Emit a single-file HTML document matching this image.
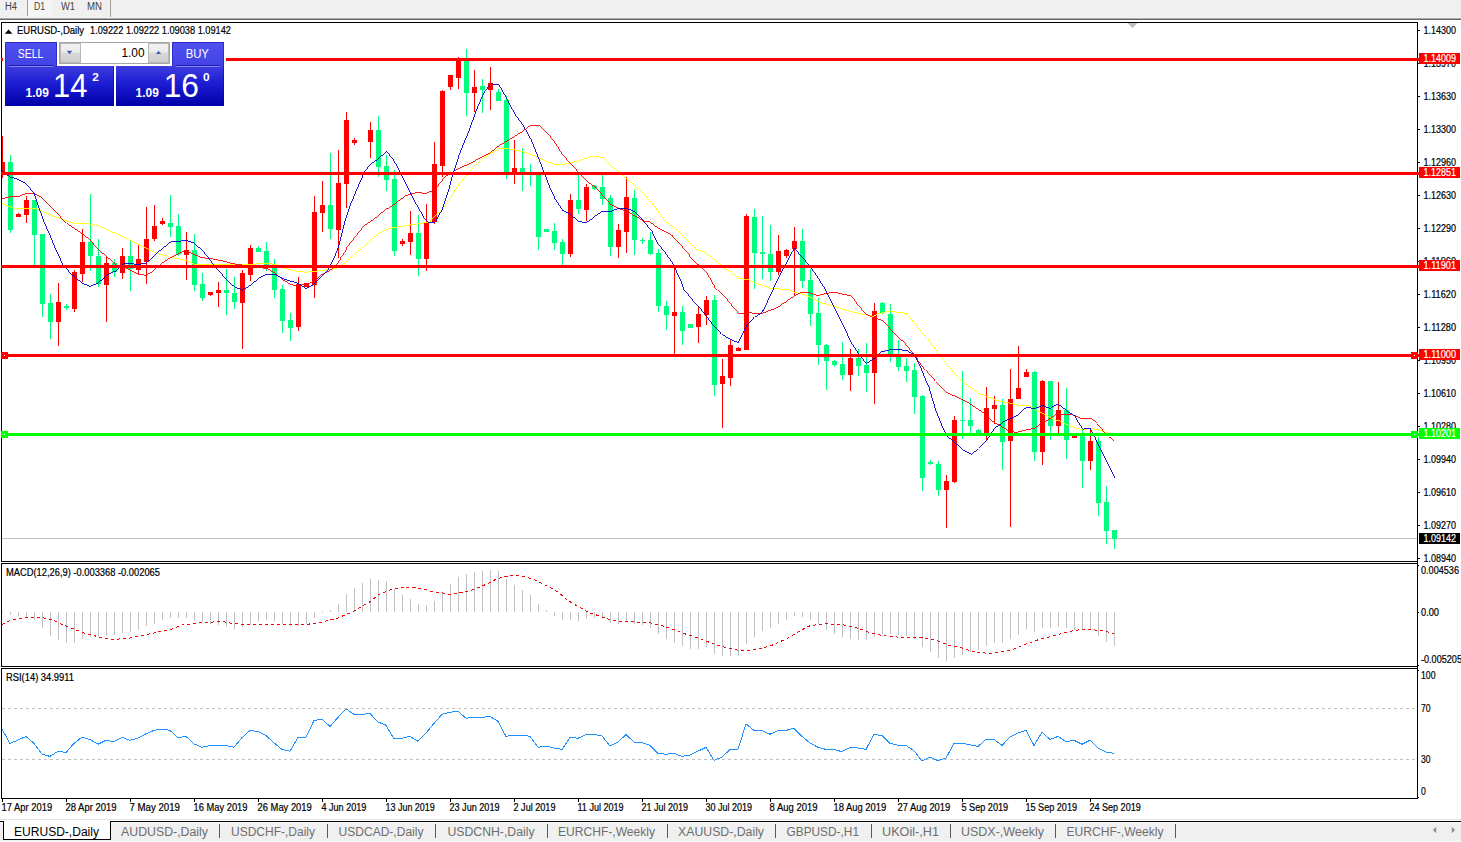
<!DOCTYPE html>
<html><head><meta charset="utf-8"><title>EURUSD-,Daily</title>
<style>html,body{margin:0;padding:0;background:#fff;overflow:hidden}body{width:1461px;height:842px;font-family:"Liberation Sans",sans-serif}svg{display:block}</style>
</head><body>
<svg width="1461" height="842" viewBox="0 0 1461 842" font-family="Liberation Sans, sans-serif">
<defs><linearGradient id="gb" x1="0" y1="0" x2="0" y2="1"><stop offset="0" stop-color="#3d3ddf"/><stop offset="0.45" stop-color="#1c1cd2"/><stop offset="1" stop-color="#0000a8"/></linearGradient><linearGradient id="gs" x1="0" y1="0" x2="0" y2="1"><stop offset="0" stop-color="#5050f0"/><stop offset="1" stop-color="#4242e4"/></linearGradient><linearGradient id="gbtn" x1="0" y1="0" x2="0" y2="1"><stop offset="0" stop-color="#f2f2f2"/><stop offset="0.45" stop-color="#eaeaea"/><stop offset="0.5" stop-color="#d8d8d8"/><stop offset="1" stop-color="#cfcfcf"/></linearGradient><pattern id="chk" width="2" height="2" patternUnits="userSpaceOnUse"><rect width="2" height="2" fill="#f0f0f0"/><rect width="1" height="1" fill="#fafafa"/><rect x="1" y="1" width="1" height="1" fill="#fafafa"/></pattern></defs>
<rect width="1461" height="842" fill="#fff"/>
<rect x="0" y="0" width="1461" height="18" fill="#f0f0f0"/>
<rect x="0" y="17" width="1461" height="1" fill="#f7f7f7"/>
<rect x="0" y="18" width="1461" height="1" fill="#a8a8a8"/>
<rect x="0" y="19" width="1461" height="1" fill="#6a6a6a"/>
<rect x="28" y="0" width="24" height="16" fill="url(#chk)"/>
<rect x="27" y="0" width="1" height="16" fill="#a0a0a0"/>
<rect x="110" y="0" width="1" height="17" fill="#a0a0a0"/>
<text x="5" y="10" font-size="10" fill="#444" textLength="12" lengthAdjust="spacingAndGlyphs" >H4</text>
<text x="34" y="10" font-size="10" fill="#444" textLength="11" lengthAdjust="spacingAndGlyphs" >D1</text>
<text x="61" y="10" font-size="10" fill="#444" textLength="14" lengthAdjust="spacingAndGlyphs" >W1</text>
<text x="87" y="10" font-size="10" fill="#444" textLength="15" lengthAdjust="spacingAndGlyphs" >MN</text>
<g shape-rendering="crispEdges">
<rect x="1" y="22" width="1" height="540" fill="#000"/>
<rect x="1" y="22" width="1417" height="1" fill="#000"/>
<rect x="1" y="561" width="1417" height="1" fill="#000"/>
<rect x="1417" y="22" width="1" height="777" fill="#000"/>
<rect x="1" y="563" width="1417" height="1" fill="#000"/>
<rect x="1" y="563" width="1" height="104" fill="#000"/>
<rect x="1" y="666" width="1417" height="1" fill="#000"/>
<rect x="1" y="668" width="1417" height="1" fill="#000"/>
<rect x="1" y="668" width="1" height="131" fill="#000"/>
<rect x="1" y="798" width="1417" height="1" fill="#000"/>
<rect x="2" y="538" width="1415" height="1" fill="#c0c0c0"/>
<clipPath id="cp"><rect x="2" y="23" width="1415" height="538"/></clipPath><g clip-path="url(#cp)">
<rect x="2" y="136" width="1" height="42" fill="#ff0000"/>
<rect x="0" y="162" width="5" height="10" fill="#ff0000"/>
<rect x="10" y="155" width="1" height="78" fill="#00ff7f"/>
<rect x="8" y="162" width="5" height="68" fill="#00ff7f"/>
<rect x="18" y="213" width="1" height="4" fill="#ff0000"/>
<rect x="16" y="214" width="5" height="3" fill="#ff0000"/>
<rect x="26" y="196" width="1" height="27" fill="#ff0000"/>
<rect x="24" y="200" width="5" height="15" fill="#ff0000"/>
<rect x="34" y="200" width="1" height="65" fill="#00ff7f"/>
<rect x="32" y="200" width="5" height="35" fill="#00ff7f"/>
<rect x="42" y="234" width="1" height="83" fill="#00ff7f"/>
<rect x="40" y="234" width="5" height="70" fill="#00ff7f"/>
<rect x="50" y="294" width="1" height="45" fill="#00ff7f"/>
<rect x="48" y="303" width="5" height="19" fill="#00ff7f"/>
<rect x="58" y="283" width="1" height="63" fill="#ff0000"/>
<rect x="56" y="302" width="5" height="20" fill="#ff0000"/>
<rect x="66" y="304" width="1" height="6" fill="#00ff7f"/>
<rect x="64" y="306" width="5" height="2" fill="#00ff7f"/>
<rect x="74" y="270" width="1" height="42" fill="#ff0000"/>
<rect x="72" y="272" width="5" height="37" fill="#ff0000"/>
<rect x="82" y="229" width="1" height="53" fill="#ff0000"/>
<rect x="80" y="242" width="5" height="32" fill="#ff0000"/>
<rect x="90" y="194" width="1" height="77" fill="#00ff7f"/>
<rect x="88" y="242" width="5" height="14" fill="#00ff7f"/>
<rect x="98" y="239" width="1" height="48" fill="#00ff7f"/>
<rect x="96" y="256" width="5" height="28" fill="#00ff7f"/>
<rect x="106" y="257" width="1" height="65" fill="#ff0000"/>
<rect x="104" y="263" width="5" height="22" fill="#ff0000"/>
<rect x="114" y="259" width="1" height="18" fill="#00ff7f"/>
<rect x="112" y="263" width="5" height="9" fill="#00ff7f"/>
<rect x="122" y="248" width="1" height="31" fill="#ff0000"/>
<rect x="120" y="256" width="5" height="17" fill="#ff0000"/>
<rect x="130" y="240" width="1" height="51" fill="#00ff7f"/>
<rect x="128" y="256" width="5" height="13" fill="#00ff7f"/>
<rect x="138" y="245" width="1" height="29" fill="#ff0000"/>
<rect x="136" y="259" width="5" height="11" fill="#ff0000"/>
<rect x="146" y="207" width="1" height="77" fill="#ff0000"/>
<rect x="144" y="239" width="5" height="23" fill="#ff0000"/>
<rect x="154" y="205" width="1" height="36" fill="#ff0000"/>
<rect x="152" y="226" width="5" height="13" fill="#ff0000"/>
<rect x="162" y="218" width="1" height="7" fill="#ff0000"/>
<rect x="160" y="221" width="5" height="3" fill="#ff0000"/>
<rect x="170" y="195" width="1" height="42" fill="#00ff7f"/>
<rect x="168" y="223" width="5" height="4" fill="#00ff7f"/>
<rect x="178" y="214" width="1" height="42" fill="#00ff7f"/>
<rect x="176" y="226" width="5" height="28" fill="#00ff7f"/>
<rect x="186" y="232" width="1" height="48" fill="#ff0000"/>
<rect x="184" y="250" width="5" height="5" fill="#ff0000"/>
<rect x="194" y="234" width="1" height="57" fill="#00ff7f"/>
<rect x="192" y="250" width="5" height="35" fill="#00ff7f"/>
<rect x="202" y="273" width="1" height="28" fill="#00ff7f"/>
<rect x="200" y="284" width="5" height="14" fill="#00ff7f"/>
<rect x="210" y="292" width="1" height="4" fill="#ff0000"/>
<rect x="208" y="292" width="5" height="3" fill="#ff0000"/>
<rect x="218" y="282" width="1" height="25" fill="#ff0000"/>
<rect x="216" y="290" width="5" height="3" fill="#ff0000"/>
<rect x="226" y="269" width="1" height="46" fill="#00ff7f"/>
<rect x="224" y="290" width="5" height="3" fill="#00ff7f"/>
<rect x="234" y="277" width="1" height="32" fill="#00ff7f"/>
<rect x="232" y="293" width="5" height="9" fill="#00ff7f"/>
<rect x="242" y="270" width="1" height="79" fill="#ff0000"/>
<rect x="240" y="273" width="5" height="30" fill="#ff0000"/>
<rect x="250" y="245" width="1" height="36" fill="#ff0000"/>
<rect x="248" y="248" width="5" height="27" fill="#ff0000"/>
<rect x="258" y="246" width="1" height="6" fill="#00ff7f"/>
<rect x="256" y="248" width="5" height="4" fill="#00ff7f"/>
<rect x="266" y="242" width="1" height="29" fill="#00ff7f"/>
<rect x="264" y="251" width="5" height="14" fill="#00ff7f"/>
<rect x="274" y="259" width="1" height="39" fill="#00ff7f"/>
<rect x="272" y="265" width="5" height="25" fill="#00ff7f"/>
<rect x="282" y="285" width="1" height="48" fill="#00ff7f"/>
<rect x="280" y="289" width="5" height="32" fill="#00ff7f"/>
<rect x="290" y="313" width="1" height="28" fill="#00ff7f"/>
<rect x="288" y="320" width="5" height="8" fill="#00ff7f"/>
<rect x="298" y="277" width="1" height="54" fill="#ff0000"/>
<rect x="296" y="284" width="5" height="43" fill="#ff0000"/>
<rect x="306" y="283" width="1" height="4" fill="#ff0000"/>
<rect x="304" y="283" width="5" height="4" fill="#ff0000"/>
<rect x="314" y="196" width="1" height="102" fill="#ff0000"/>
<rect x="312" y="212" width="5" height="73" fill="#ff0000"/>
<rect x="322" y="181" width="1" height="51" fill="#ff0000"/>
<rect x="320" y="205" width="5" height="8" fill="#ff0000"/>
<rect x="330" y="153" width="1" height="86" fill="#00ff7f"/>
<rect x="328" y="205" width="5" height="24" fill="#00ff7f"/>
<rect x="338" y="150" width="1" height="108" fill="#ff0000"/>
<rect x="336" y="183" width="5" height="47" fill="#ff0000"/>
<rect x="346" y="112" width="1" height="96" fill="#ff0000"/>
<rect x="344" y="120" width="5" height="64" fill="#ff0000"/>
<rect x="354" y="138" width="1" height="7" fill="#ff0000"/>
<rect x="352" y="140" width="5" height="3" fill="#ff0000"/>
<rect x="370" y="122" width="1" height="36" fill="#ff0000"/>
<rect x="368" y="130" width="5" height="12" fill="#ff0000"/>
<rect x="378" y="116" width="1" height="61" fill="#00ff7f"/>
<rect x="376" y="130" width="5" height="37" fill="#00ff7f"/>
<rect x="386" y="155" width="1" height="36" fill="#00ff7f"/>
<rect x="384" y="166" width="5" height="14" fill="#00ff7f"/>
<rect x="394" y="170" width="1" height="86" fill="#00ff7f"/>
<rect x="392" y="179" width="5" height="72" fill="#00ff7f"/>
<rect x="402" y="239" width="1" height="7" fill="#ff0000"/>
<rect x="400" y="241" width="5" height="3" fill="#ff0000"/>
<rect x="410" y="211" width="1" height="44" fill="#ff0000"/>
<rect x="408" y="233" width="5" height="9" fill="#ff0000"/>
<rect x="418" y="215" width="1" height="61" fill="#00ff7f"/>
<rect x="416" y="233" width="5" height="26" fill="#00ff7f"/>
<rect x="426" y="204" width="1" height="67" fill="#ff0000"/>
<rect x="424" y="222" width="5" height="37" fill="#ff0000"/>
<rect x="434" y="142" width="1" height="82" fill="#ff0000"/>
<rect x="432" y="164" width="5" height="58" fill="#ff0000"/>
<rect x="442" y="90" width="1" height="87" fill="#ff0000"/>
<rect x="440" y="91" width="5" height="75" fill="#ff0000"/>
<rect x="450" y="75" width="1" height="15" fill="#ff0000"/>
<rect x="448" y="75" width="5" height="12" fill="#ff0000"/>
<rect x="458" y="57" width="1" height="32" fill="#ff0000"/>
<rect x="456" y="58" width="5" height="20" fill="#ff0000"/>
<rect x="466" y="49" width="1" height="67" fill="#00ff7f"/>
<rect x="464" y="60" width="5" height="33" fill="#00ff7f"/>
<rect x="474" y="70" width="1" height="42" fill="#ff0000"/>
<rect x="472" y="87" width="5" height="6" fill="#ff0000"/>
<rect x="482" y="79" width="1" height="34" fill="#00ff7f"/>
<rect x="480" y="86" width="5" height="4" fill="#00ff7f"/>
<rect x="490" y="67" width="1" height="43" fill="#ff0000"/>
<rect x="488" y="83" width="5" height="7" fill="#ff0000"/>
<rect x="498" y="89" width="1" height="12" fill="#00ff7f"/>
<rect x="496" y="92" width="5" height="9" fill="#00ff7f"/>
<rect x="506" y="96" width="1" height="83" fill="#00ff7f"/>
<rect x="504" y="100" width="5" height="74" fill="#00ff7f"/>
<rect x="514" y="140" width="1" height="44" fill="#ff0000"/>
<rect x="512" y="168" width="5" height="6" fill="#ff0000"/>
<rect x="522" y="148" width="1" height="43" fill="#00ff7f"/>
<rect x="520" y="168" width="5" height="6" fill="#00ff7f"/>
<rect x="530" y="164" width="1" height="22" fill="#00ff7f"/>
<rect x="528" y="172" width="5" height="2" fill="#00ff7f"/>
<rect x="538" y="174" width="1" height="76" fill="#00ff7f"/>
<rect x="536" y="174" width="5" height="63" fill="#00ff7f"/>
<rect x="546" y="229" width="1" height="3" fill="#00ff7f"/>
<rect x="544" y="229" width="5" height="3" fill="#00ff7f"/>
<rect x="554" y="223" width="1" height="27" fill="#00ff7f"/>
<rect x="552" y="231" width="5" height="12" fill="#00ff7f"/>
<rect x="562" y="239" width="1" height="26" fill="#00ff7f"/>
<rect x="560" y="242" width="5" height="12" fill="#00ff7f"/>
<rect x="570" y="194" width="1" height="63" fill="#ff0000"/>
<rect x="568" y="200" width="5" height="54" fill="#ff0000"/>
<rect x="578" y="173" width="1" height="41" fill="#00ff7f"/>
<rect x="576" y="200" width="5" height="9" fill="#00ff7f"/>
<rect x="586" y="184" width="1" height="37" fill="#ff0000"/>
<rect x="584" y="187" width="5" height="23" fill="#ff0000"/>
<rect x="594" y="185" width="1" height="5" fill="#00ff7f"/>
<rect x="592" y="186" width="5" height="3" fill="#00ff7f"/>
<rect x="602" y="175" width="1" height="30" fill="#00ff7f"/>
<rect x="600" y="187" width="5" height="12" fill="#00ff7f"/>
<rect x="610" y="195" width="1" height="61" fill="#00ff7f"/>
<rect x="608" y="198" width="5" height="49" fill="#00ff7f"/>
<rect x="618" y="224" width="1" height="34" fill="#ff0000"/>
<rect x="616" y="230" width="5" height="17" fill="#ff0000"/>
<rect x="626" y="177" width="1" height="76" fill="#ff0000"/>
<rect x="624" y="197" width="5" height="35" fill="#ff0000"/>
<rect x="634" y="190" width="1" height="65" fill="#00ff7f"/>
<rect x="632" y="198" width="5" height="42" fill="#00ff7f"/>
<rect x="642" y="238" width="1" height="6" fill="#00ff7f"/>
<rect x="640" y="240" width="5" height="1" fill="#00ff7f"/>
<rect x="650" y="232" width="1" height="23" fill="#00ff7f"/>
<rect x="648" y="240" width="5" height="14" fill="#00ff7f"/>
<rect x="658" y="249" width="1" height="63" fill="#00ff7f"/>
<rect x="656" y="253" width="5" height="53" fill="#00ff7f"/>
<rect x="666" y="301" width="1" height="29" fill="#00ff7f"/>
<rect x="664" y="306" width="5" height="9" fill="#00ff7f"/>
<rect x="674" y="268" width="1" height="87" fill="#ff0000"/>
<rect x="672" y="312" width="5" height="4" fill="#ff0000"/>
<rect x="682" y="306" width="1" height="39" fill="#00ff7f"/>
<rect x="680" y="312" width="5" height="19" fill="#00ff7f"/>
<rect x="690" y="324" width="1" height="4" fill="#00ff7f"/>
<rect x="688" y="324" width="5" height="4" fill="#00ff7f"/>
<rect x="698" y="307" width="1" height="36" fill="#ff0000"/>
<rect x="696" y="314" width="5" height="13" fill="#ff0000"/>
<rect x="706" y="296" width="1" height="29" fill="#ff0000"/>
<rect x="704" y="300" width="5" height="15" fill="#ff0000"/>
<rect x="714" y="295" width="1" height="101" fill="#00ff7f"/>
<rect x="712" y="300" width="5" height="85" fill="#00ff7f"/>
<rect x="722" y="359" width="1" height="69" fill="#ff0000"/>
<rect x="720" y="376" width="5" height="8" fill="#ff0000"/>
<rect x="730" y="340" width="1" height="46" fill="#ff0000"/>
<rect x="728" y="345" width="5" height="33" fill="#ff0000"/>
<rect x="738" y="347" width="1" height="4" fill="#ff0000"/>
<rect x="736" y="348" width="5" height="3" fill="#ff0000"/>
<rect x="746" y="214" width="1" height="136" fill="#ff0000"/>
<rect x="744" y="216" width="5" height="134" fill="#ff0000"/>
<rect x="754" y="209" width="1" height="80" fill="#00ff7f"/>
<rect x="752" y="217" width="5" height="36" fill="#00ff7f"/>
<rect x="762" y="216" width="1" height="63" fill="#00ff7f"/>
<rect x="760" y="252" width="5" height="2" fill="#00ff7f"/>
<rect x="770" y="225" width="1" height="56" fill="#00ff7f"/>
<rect x="768" y="254" width="5" height="18" fill="#00ff7f"/>
<rect x="778" y="235" width="1" height="40" fill="#ff0000"/>
<rect x="776" y="251" width="5" height="21" fill="#ff0000"/>
<rect x="786" y="249" width="1" height="9" fill="#ff0000"/>
<rect x="784" y="250" width="5" height="6" fill="#ff0000"/>
<rect x="794" y="227" width="1" height="68" fill="#ff0000"/>
<rect x="792" y="241" width="5" height="8" fill="#ff0000"/>
<rect x="802" y="229" width="1" height="59" fill="#00ff7f"/>
<rect x="800" y="241" width="5" height="40" fill="#00ff7f"/>
<rect x="810" y="269" width="1" height="57" fill="#00ff7f"/>
<rect x="808" y="280" width="5" height="34" fill="#00ff7f"/>
<rect x="818" y="298" width="1" height="67" fill="#00ff7f"/>
<rect x="816" y="313" width="5" height="32" fill="#00ff7f"/>
<rect x="826" y="344" width="1" height="46" fill="#00ff7f"/>
<rect x="824" y="345" width="5" height="16" fill="#00ff7f"/>
<rect x="834" y="360" width="1" height="7" fill="#00ff7f"/>
<rect x="832" y="361" width="5" height="4" fill="#00ff7f"/>
<rect x="842" y="342" width="1" height="38" fill="#00ff7f"/>
<rect x="840" y="364" width="5" height="11" fill="#00ff7f"/>
<rect x="850" y="349" width="1" height="42" fill="#ff0000"/>
<rect x="848" y="358" width="5" height="17" fill="#ff0000"/>
<rect x="858" y="349" width="1" height="27" fill="#00ff7f"/>
<rect x="856" y="358" width="5" height="8" fill="#00ff7f"/>
<rect x="866" y="343" width="1" height="49" fill="#00ff7f"/>
<rect x="864" y="365" width="5" height="8" fill="#00ff7f"/>
<rect x="874" y="303" width="1" height="101" fill="#ff0000"/>
<rect x="872" y="311" width="5" height="62" fill="#ff0000"/>
<rect x="882" y="302" width="1" height="12" fill="#00ff7f"/>
<rect x="880" y="303" width="5" height="10" fill="#00ff7f"/>
<rect x="890" y="304" width="1" height="58" fill="#00ff7f"/>
<rect x="888" y="314" width="5" height="40" fill="#00ff7f"/>
<rect x="898" y="340" width="1" height="31" fill="#00ff7f"/>
<rect x="896" y="354" width="5" height="13" fill="#00ff7f"/>
<rect x="906" y="358" width="1" height="24" fill="#00ff7f"/>
<rect x="904" y="366" width="5" height="5" fill="#00ff7f"/>
<rect x="914" y="363" width="1" height="51" fill="#00ff7f"/>
<rect x="912" y="370" width="5" height="27" fill="#00ff7f"/>
<rect x="922" y="395" width="1" height="96" fill="#00ff7f"/>
<rect x="920" y="396" width="5" height="82" fill="#00ff7f"/>
<rect x="930" y="460" width="1" height="5" fill="#00ff7f"/>
<rect x="928" y="462" width="5" height="2" fill="#00ff7f"/>
<rect x="938" y="461" width="1" height="35" fill="#00ff7f"/>
<rect x="936" y="464" width="5" height="26" fill="#00ff7f"/>
<rect x="946" y="475" width="1" height="53" fill="#ff0000"/>
<rect x="944" y="481" width="5" height="9" fill="#ff0000"/>
<rect x="954" y="416" width="1" height="67" fill="#ff0000"/>
<rect x="952" y="420" width="5" height="62" fill="#ff0000"/>
<rect x="962" y="371" width="1" height="68" fill="#00ff7f"/>
<rect x="960" y="420" width="5" height="1" fill="#00ff7f"/>
<rect x="970" y="398" width="1" height="35" fill="#00ff7f"/>
<rect x="968" y="420" width="5" height="6" fill="#00ff7f"/>
<rect x="978" y="429" width="1" height="4" fill="#00ff7f"/>
<rect x="976" y="430" width="5" height="3" fill="#00ff7f"/>
<rect x="986" y="387" width="1" height="53" fill="#ff0000"/>
<rect x="984" y="408" width="5" height="25" fill="#ff0000"/>
<rect x="994" y="396" width="1" height="28" fill="#ff0000"/>
<rect x="992" y="405" width="5" height="4" fill="#ff0000"/>
<rect x="1002" y="399" width="1" height="71" fill="#00ff7f"/>
<rect x="1000" y="405" width="5" height="37" fill="#00ff7f"/>
<rect x="1010" y="369" width="1" height="158" fill="#ff0000"/>
<rect x="1008" y="399" width="5" height="42" fill="#ff0000"/>
<rect x="1018" y="346" width="1" height="53" fill="#ff0000"/>
<rect x="1016" y="388" width="5" height="11" fill="#ff0000"/>
<rect x="1026" y="369" width="1" height="8" fill="#ff0000"/>
<rect x="1024" y="372" width="5" height="5" fill="#ff0000"/>
<rect x="1034" y="371" width="1" height="90" fill="#00ff7f"/>
<rect x="1032" y="372" width="5" height="80" fill="#00ff7f"/>
<rect x="1042" y="380" width="1" height="85" fill="#ff0000"/>
<rect x="1040" y="381" width="5" height="71" fill="#ff0000"/>
<rect x="1050" y="381" width="1" height="59" fill="#00ff7f"/>
<rect x="1048" y="381" width="5" height="45" fill="#00ff7f"/>
<rect x="1058" y="382" width="1" height="52" fill="#ff0000"/>
<rect x="1056" y="410" width="5" height="16" fill="#ff0000"/>
<rect x="1066" y="388" width="1" height="71" fill="#00ff7f"/>
<rect x="1064" y="410" width="5" height="30" fill="#00ff7f"/>
<rect x="1074" y="436" width="1" height="2" fill="#ff0000"/>
<rect x="1072" y="436" width="5" height="2" fill="#ff0000"/>
<rect x="1082" y="430" width="1" height="58" fill="#00ff7f"/>
<rect x="1080" y="436" width="5" height="25" fill="#00ff7f"/>
<rect x="1090" y="429" width="1" height="41" fill="#ff0000"/>
<rect x="1088" y="441" width="5" height="20" fill="#ff0000"/>
<rect x="1098" y="437" width="1" height="79" fill="#00ff7f"/>
<rect x="1096" y="441" width="5" height="62" fill="#00ff7f"/>
<rect x="1106" y="486" width="1" height="58" fill="#00ff7f"/>
<rect x="1104" y="502" width="5" height="29" fill="#00ff7f"/>
<rect x="1114" y="530" width="1" height="19" fill="#00ff7f"/>
<rect x="1112" y="530" width="5" height="9" fill="#00ff7f"/>
<polyline points="1.4,202.6 2.0,203.2 7.8,205.8 15.7,208.4 35.3,208.4 52.3,215.6 62.7,219.5 74.5,223.4 86.2,223.4 99.3,226.0 115.0,233.2 131.0,241.0 144.8,247.3 157.0,253.4 172.0,257.5 185.0,260.3 193.2,264.0 221.9,264.4 249.2,264.4 267.0,263.3 275.2,264.4 284.7,268.2 294.3,270.8 305.2,272.2 316.1,271.2 327.0,269.8 336.6,268.5 345.0,263.0 355.0,253.9 366.6,244.0 378.0,233.9 389.4,228.5 404.0,225.8 418.0,223.8 429.7,222.0 431.6,219.0 442.5,209.5 452.0,195.2 458.9,184.2 467.0,174.7 469.6,171.0 482.4,159.0 490.6,153.6 498.8,148.8 508.4,148.8 518.0,150.5 528.9,153.6 537.0,157.0 542.5,159.5 544.2,160.7 554.1,164.2 564.1,164.2 578.4,161.1 589.8,156.8 596.9,156.4 602.6,157.8 611.1,165.7 625.4,177.8 639.6,189.9 650.0,200.6 651.0,202.0 657.1,209.9 665.7,222.0 674.2,227.7 685.6,238.4 697.0,249.8 705.6,252.7 717.0,261.9 725.5,269.1 738.3,278.3 748.3,279.8 758.3,284.0 771.1,288.6 788.2,289.4 795.3,292.6 800.0,293.6 801.4,293.8 810.0,297.1 821.4,302.8 834.2,306.4 845.6,310.0 858.5,313.5 872.7,316.4 881.3,312.8 889.8,311.4 901.2,312.5 906.9,313.5 915.5,323.5 926.9,337.7 928.5,340.0 937.1,351.4 945.6,362.8 957.0,376.3 967.0,384.9 978.4,393.4 988.4,397.0 999.8,401.3 1011.2,403.4 1018.3,405.3 1020.0,405.7 1027.5,405.7 1035.0,409.5 1042.4,413.4 1049.9,417.2 1058.5,420.9 1066.0,424.1 1073.4,427.3 1082.0,430.0 1090.5,428.4 1100.2,430.5 1107.6,432.7" fill="none" stroke="#ffff00" stroke-width="0.9" />
<polyline points="1.4,197.5 2.0,198.6 10.5,196.6 19.6,196.0 26.0,193.6 34.0,193.6 41.8,197.3 52.3,208.4 66.6,223.4 78.4,231.2 90.0,239.7 91.5,241.8 99.7,250.7 107.9,257.5 116.0,265.0 125.6,267.8 137.9,274.2 146.0,275.3 153.0,271.2 161.0,263.7 169.3,258.2 178.9,253.4 185.0,250.7 193.2,254.1 201.4,257.5 212.3,258.9 223.3,261.0 232.8,263.7 267.0,268.5 275.2,273.3 283.4,280.0 291.6,284.9 298.4,285.5 306.3,284.2 314.0,282.0 321.6,274.6 329.8,270.5 335.3,265.7 340.7,257.5 345.0,252.0 347.0,247.0 364.0,226.0 374.2,219.0 386.5,208.8 396.0,202.7 405.6,195.8 416.6,192.4 426.0,193.5 431.6,191.0 437.0,187.0 445.2,176.7 454.8,170.6 463.0,166.5 470.0,163.5 472.0,162.5 478.3,159.0 487.9,154.3 498.8,146.0 511.0,138.6 522.0,131.7 530.2,125.6 537.0,125.6 540.0,126.0 553.4,140.0 561.3,152.8 569.8,162.8 578.4,172.0 586.9,181.3 595.5,187.0 604.0,197.0 611.1,204.8 618.3,208.4 626.8,211.3 635.4,216.2 645.3,221.9 650.2,222.0 658.5,228.5 672.8,236.3 681.3,245.6 689.9,255.5 698.4,264.8 707.0,273.3 714.1,285.5 717.9,290.0 725.8,297.8 733.6,307.6 738.8,313.5 749.3,312.9 762.3,313.5 771.5,309.6 780.6,305.0 785.7,301.9 793.6,296.4 801.4,292.5 810.0,292.9 817.8,295.7 825.7,293.6 834.2,292.1 842.8,294.3 851.3,295.7 858.5,305.7 866.3,314.2 874.1,317.8 882.7,320.6 891.2,329.9 901.2,340.6 902.1,340.0 908.6,347.8 917.1,358.5 925.7,369.9 935.6,381.3 947.0,392.7 957.0,397.0 968.4,402.7 977.0,408.4 984.1,413.4 991.2,420.5 999.8,425.5 1008.3,430.5 1016.9,432.6 1020.0,431.4 1027.5,429.5 1035.0,427.9 1041.4,423.6 1047.8,419.9 1055.3,415.0 1062.8,414.5 1073.4,415.0 1080.9,418.3 1090.5,418.3 1097.0,424.1 1102.8,429.5 1108.7,436.4 1114.0,440.7" fill="none" stroke="#ff0000" stroke-width="0.9" />
<polyline points="1.4,170.7 2.0,169.8 5.2,173.8 10.5,177.3 17.0,179.0 26.0,183.6 34.0,193.4 39.2,208.4 44.4,222.7 49.8,235.0 56.0,250.0 62.8,264.4 71.0,273.9 81.9,282.8 90.0,286.6 98.3,282.8 107.9,274.6 116.0,270.8 122.9,264.0 128.4,263.3 137.9,264.4 146.0,263.4 157.0,252.8 170.7,242.0 178.9,241.6 185.0,240.2 193.2,242.5 202.8,250.7 212.3,263.0 220.5,272.6 227.3,280.8 235.5,287.6 242.0,290.3 249.2,286.2 258.8,278.4 265.6,274.6 274.5,274.6 282.0,278.4 291.6,281.4 298.4,283.5 306.3,288.6 314.0,284.2 321.6,276.0 328.4,268.5 333.9,258.2 338.7,246.6 341.4,235.0 345.5,219.0 351.0,203.4 357.8,187.0 364.6,171.9 370.8,163.7 377.6,159.6 386.5,151.4 393.3,159.6 400.2,171.9 408.4,188.3 416.6,204.7 424.8,219.0 428.0,222.0 435.0,222.0 437.0,219.0 442.5,208.8 448.0,192.4 453.4,171.9 458.9,155.5 464.4,141.9 470.0,128.2 475.6,112.0 483.8,92.8 490.6,83.7 498.8,84.6 507.0,99.0 515.2,114.7 523.4,125.6 531.3,140.0 537.0,154.3 543.4,170.6 549.1,185.6 555.6,199.9 562.7,210.5 569.8,214.1 578.4,221.2 585.5,222.7 592.6,217.7 602.6,211.3 611.1,211.3 618.3,208.4 626.8,208.4 633.9,211.3 642.5,219.8 650.0,229.0 651.4,229.9 657.1,242.7 664.2,251.3 672.8,263.4 677.0,272.6 682.8,285.5 684.6,290.0 694.4,302.4 702.3,310.9 712.7,324.6 721.8,334.4 731.0,339.6 738.2,342.5 746.0,326.6 754.5,316.8 761.7,312.2 767.6,300.5 772.8,290.0 774.6,286.2 783.8,267.9 794.2,248.3 801.4,256.2 811.2,267.9 818.4,278.4 825.7,290.0 832.8,304.3 842.8,324.2 851.3,342.7 858.5,353.4 866.3,363.7 874.1,358.4 881.3,352.0 889.8,349.9 898.4,349.1 900.0,349.7 907.1,350.7 914.3,355.0 921.4,368.5 928.5,385.6 935.6,409.8 941.3,424.1 947.0,436.2 954.2,441.9 962.7,449.7 970.5,454.0 978.4,448.3 986.9,439.8 995.5,426.9 1002.6,421.9 1011.2,418.4 1018.3,414.8 1020.0,412.9 1026.4,407.3 1035.0,408.6 1042.4,405.4 1049.9,408.4 1057.9,404.0 1062.8,407.6 1068.1,411.8 1074.5,415.6 1078.8,423.1 1083.1,429.5 1086.8,428.1 1090.5,428.9 1094.8,437.0 1100.2,448.7 1106.0,460.0 1114.8,477.7" fill="none" stroke="#0000cd" stroke-width="0.9" />
</g>
<rect x="1" y="58" width="1418" height="3" fill="#ff0000"/>
<rect x="1" y="172" width="1418" height="3" fill="#ff0000"/>
<rect x="1" y="265" width="1418" height="3" fill="#ff0000"/>
<rect x="1" y="354" width="1418" height="3" fill="#ff0000"/>
<rect x="1" y="433" width="1418" height="3" fill="#00ff00"/>
<rect x="2" y="612" width="1" height="1" fill="#c0c0c0"/>
<rect x="10" y="612" width="1" height="3" fill="#c0c0c0"/>
<rect x="18" y="612" width="1" height="4" fill="#c0c0c0"/>
<rect x="26" y="612" width="1" height="5" fill="#c0c0c0"/>
<rect x="34" y="612" width="1" height="8" fill="#c0c0c0"/>
<rect x="42" y="612" width="1" height="16" fill="#c0c0c0"/>
<rect x="50" y="612" width="1" height="24" fill="#c0c0c0"/>
<rect x="58" y="612" width="1" height="28" fill="#c0c0c0"/>
<rect x="66" y="612" width="1" height="31" fill="#c0c0c0"/>
<rect x="74" y="612" width="1" height="31" fill="#c0c0c0"/>
<rect x="82" y="612" width="1" height="27" fill="#c0c0c0"/>
<rect x="90" y="612" width="1" height="25" fill="#c0c0c0"/>
<rect x="98" y="612" width="1" height="25" fill="#c0c0c0"/>
<rect x="106" y="612" width="1" height="24" fill="#c0c0c0"/>
<rect x="114" y="612" width="1" height="23" fill="#c0c0c0"/>
<rect x="122" y="612" width="1" height="21" fill="#c0c0c0"/>
<rect x="130" y="612" width="1" height="20" fill="#c0c0c0"/>
<rect x="138" y="612" width="1" height="18" fill="#c0c0c0"/>
<rect x="146" y="612" width="1" height="14" fill="#c0c0c0"/>
<rect x="154" y="612" width="1" height="12" fill="#c0c0c0"/>
<rect x="162" y="612" width="1" height="8" fill="#c0c0c0"/>
<rect x="170" y="612" width="1" height="6" fill="#c0c0c0"/>
<rect x="178" y="612" width="1" height="6" fill="#c0c0c0"/>
<rect x="186" y="612" width="1" height="6" fill="#c0c0c0"/>
<rect x="194" y="612" width="1" height="8" fill="#c0c0c0"/>
<rect x="202" y="612" width="1" height="10" fill="#c0c0c0"/>
<rect x="210" y="612" width="1" height="12" fill="#c0c0c0"/>
<rect x="218" y="612" width="1" height="13" fill="#c0c0c0"/>
<rect x="226" y="612" width="1" height="15" fill="#c0c0c0"/>
<rect x="234" y="612" width="1" height="17" fill="#c0c0c0"/>
<rect x="242" y="612" width="1" height="15" fill="#c0c0c0"/>
<rect x="250" y="612" width="1" height="12" fill="#c0c0c0"/>
<rect x="258" y="612" width="1" height="9" fill="#c0c0c0"/>
<rect x="266" y="612" width="1" height="8" fill="#c0c0c0"/>
<rect x="274" y="612" width="1" height="9" fill="#c0c0c0"/>
<rect x="282" y="612" width="1" height="12" fill="#c0c0c0"/>
<rect x="290" y="612" width="1" height="14" fill="#c0c0c0"/>
<rect x="298" y="612" width="1" height="14" fill="#c0c0c0"/>
<rect x="306" y="612" width="1" height="12" fill="#c0c0c0"/>
<rect x="314" y="612" width="1" height="6" fill="#c0c0c0"/>
<rect x="322" y="612" width="1" height="1" fill="#c0c0c0"/>
<rect x="330" y="610" width="1" height="2" fill="#c0c0c0"/>
<rect x="338" y="604" width="1" height="8" fill="#c0c0c0"/>
<rect x="346" y="594" width="1" height="18" fill="#c0c0c0"/>
<rect x="354" y="588" width="1" height="24" fill="#c0c0c0"/>
<rect x="362" y="583" width="1" height="29" fill="#c0c0c0"/>
<rect x="370" y="579" width="1" height="33" fill="#c0c0c0"/>
<rect x="378" y="580" width="1" height="32" fill="#c0c0c0"/>
<rect x="386" y="581" width="1" height="31" fill="#c0c0c0"/>
<rect x="394" y="589" width="1" height="23" fill="#c0c0c0"/>
<rect x="402" y="595" width="1" height="17" fill="#c0c0c0"/>
<rect x="410" y="599" width="1" height="13" fill="#c0c0c0"/>
<rect x="418" y="604" width="1" height="8" fill="#c0c0c0"/>
<rect x="426" y="605" width="1" height="7" fill="#c0c0c0"/>
<rect x="434" y="601" width="1" height="11" fill="#c0c0c0"/>
<rect x="442" y="593" width="1" height="19" fill="#c0c0c0"/>
<rect x="450" y="584" width="1" height="28" fill="#c0c0c0"/>
<rect x="458" y="577" width="1" height="35" fill="#c0c0c0"/>
<rect x="466" y="574" width="1" height="38" fill="#c0c0c0"/>
<rect x="474" y="572" width="1" height="40" fill="#c0c0c0"/>
<rect x="482" y="571" width="1" height="41" fill="#c0c0c0"/>
<rect x="490" y="570" width="1" height="42" fill="#c0c0c0"/>
<rect x="498" y="571" width="1" height="41" fill="#c0c0c0"/>
<rect x="506" y="579" width="1" height="33" fill="#c0c0c0"/>
<rect x="514" y="585" width="1" height="27" fill="#c0c0c0"/>
<rect x="522" y="590" width="1" height="22" fill="#c0c0c0"/>
<rect x="530" y="595" width="1" height="17" fill="#c0c0c0"/>
<rect x="538" y="604" width="1" height="8" fill="#c0c0c0"/>
<rect x="546" y="610" width="1" height="2" fill="#c0c0c0"/>
<rect x="554" y="612" width="1" height="4" fill="#c0c0c0"/>
<rect x="562" y="612" width="1" height="8" fill="#c0c0c0"/>
<rect x="570" y="612" width="1" height="8" fill="#c0c0c0"/>
<rect x="578" y="612" width="1" height="9" fill="#c0c0c0"/>
<rect x="586" y="612" width="1" height="7" fill="#c0c0c0"/>
<rect x="594" y="612" width="1" height="6" fill="#c0c0c0"/>
<rect x="602" y="612" width="1" height="6" fill="#c0c0c0"/>
<rect x="610" y="612" width="1" height="11" fill="#c0c0c0"/>
<rect x="618" y="612" width="1" height="12" fill="#c0c0c0"/>
<rect x="626" y="612" width="1" height="10" fill="#c0c0c0"/>
<rect x="634" y="612" width="1" height="12" fill="#c0c0c0"/>
<rect x="642" y="612" width="1" height="13" fill="#c0c0c0"/>
<rect x="650" y="612" width="1" height="16" fill="#c0c0c0"/>
<rect x="658" y="612" width="1" height="22" fill="#c0c0c0"/>
<rect x="666" y="612" width="1" height="27" fill="#c0c0c0"/>
<rect x="674" y="612" width="1" height="31" fill="#c0c0c0"/>
<rect x="682" y="612" width="1" height="34" fill="#c0c0c0"/>
<rect x="690" y="612" width="1" height="37" fill="#c0c0c0"/>
<rect x="698" y="612" width="1" height="37" fill="#c0c0c0"/>
<rect x="706" y="612" width="1" height="35" fill="#c0c0c0"/>
<rect x="714" y="612" width="1" height="42" fill="#c0c0c0"/>
<rect x="722" y="612" width="1" height="44" fill="#c0c0c0"/>
<rect x="730" y="612" width="1" height="44" fill="#c0c0c0"/>
<rect x="738" y="612" width="1" height="44" fill="#c0c0c0"/>
<rect x="746" y="612" width="1" height="32" fill="#c0c0c0"/>
<rect x="754" y="612" width="1" height="25" fill="#c0c0c0"/>
<rect x="762" y="612" width="1" height="19" fill="#c0c0c0"/>
<rect x="770" y="612" width="1" height="16" fill="#c0c0c0"/>
<rect x="778" y="612" width="1" height="12" fill="#c0c0c0"/>
<rect x="786" y="612" width="1" height="8" fill="#c0c0c0"/>
<rect x="794" y="612" width="1" height="4" fill="#c0c0c0"/>
<rect x="802" y="612" width="1" height="5" fill="#c0c0c0"/>
<rect x="810" y="612" width="1" height="8" fill="#c0c0c0"/>
<rect x="818" y="612" width="1" height="12" fill="#c0c0c0"/>
<rect x="826" y="612" width="1" height="18" fill="#c0c0c0"/>
<rect x="834" y="612" width="1" height="22" fill="#c0c0c0"/>
<rect x="842" y="612" width="1" height="25" fill="#c0c0c0"/>
<rect x="850" y="612" width="1" height="27" fill="#c0c0c0"/>
<rect x="858" y="612" width="1" height="28" fill="#c0c0c0"/>
<rect x="866" y="612" width="1" height="28" fill="#c0c0c0"/>
<rect x="874" y="612" width="1" height="25" fill="#c0c0c0"/>
<rect x="882" y="612" width="1" height="22" fill="#c0c0c0"/>
<rect x="890" y="612" width="1" height="22" fill="#c0c0c0"/>
<rect x="898" y="612" width="1" height="23" fill="#c0c0c0"/>
<rect x="906" y="612" width="1" height="24" fill="#c0c0c0"/>
<rect x="914" y="612" width="1" height="27" fill="#c0c0c0"/>
<rect x="922" y="612" width="1" height="35" fill="#c0c0c0"/>
<rect x="930" y="612" width="1" height="40" fill="#c0c0c0"/>
<rect x="938" y="612" width="1" height="46" fill="#c0c0c0"/>
<rect x="946" y="612" width="1" height="49" fill="#c0c0c0"/>
<rect x="954" y="612" width="1" height="46" fill="#c0c0c0"/>
<rect x="962" y="612" width="1" height="43" fill="#c0c0c0"/>
<rect x="970" y="612" width="1" height="40" fill="#c0c0c0"/>
<rect x="978" y="612" width="1" height="38" fill="#c0c0c0"/>
<rect x="986" y="612" width="1" height="34" fill="#c0c0c0"/>
<rect x="994" y="612" width="1" height="31" fill="#c0c0c0"/>
<rect x="1002" y="612" width="1" height="31" fill="#c0c0c0"/>
<rect x="1010" y="612" width="1" height="27" fill="#c0c0c0"/>
<rect x="1018" y="612" width="1" height="23" fill="#c0c0c0"/>
<rect x="1026" y="612" width="1" height="17" fill="#c0c0c0"/>
<rect x="1034" y="612" width="1" height="20" fill="#c0c0c0"/>
<rect x="1042" y="612" width="1" height="16" fill="#c0c0c0"/>
<rect x="1050" y="612" width="1" height="16" fill="#c0c0c0"/>
<rect x="1058" y="612" width="1" height="15" fill="#c0c0c0"/>
<rect x="1066" y="612" width="1" height="16" fill="#c0c0c0"/>
<rect x="1074" y="612" width="1" height="18" fill="#c0c0c0"/>
<rect x="1082" y="612" width="1" height="18" fill="#c0c0c0"/>
<rect x="1090" y="612" width="1" height="18" fill="#c0c0c0"/>
<rect x="1098" y="612" width="1" height="24" fill="#c0c0c0"/>
<rect x="1106" y="612" width="1" height="30" fill="#c0c0c0"/>
<rect x="1114" y="612" width="1" height="34" fill="#c0c0c0"/>
<polyline points="2.0,624.4 10.4,620.5 26.0,617.4 41.6,617.4 52.0,619.7 65.0,625.7 83.0,632.7 98.8,636.9 114.0,639.5 130.0,638.0 145.6,634.8 158.6,632.0 171.7,629.0 182.0,625.0 197.7,623.0 213.0,622.0 223.7,621.8 234.0,623.9 249.7,624.4 260.0,625.0 286.0,624.4 306.9,624.4 322.5,622.0 338.0,617.9 353.7,611.4 362.0,606.2 370.4,601.5 378.0,595.0 386.0,591.4 393.8,588.8 404.0,587.0 414.6,587.5 425.0,589.3 432.8,591.9 443.0,593.0 451.0,594.5 458.8,593.0 469.0,591.0 479.6,587.0 487.0,584.0 495.0,579.7 503.0,577.0 516.0,575.0 526.0,577.0 536.9,580.7 547.0,585.9 557.7,591.9 568.0,600.5 578.5,606.7 588.9,612.7 599.0,615.8 609.7,619.7 620.0,621.3 635.7,622.0 651.0,623.0 661.7,625.7 674.7,630.0 687.7,634.8 698.0,637.9 711.0,643.0 724.0,647.0 738.4,650.4 755.6,649.9 771.0,645.7 786.8,638.7 799.8,630.9 810.0,625.7 825.8,623.6 844.0,625.0 857.0,628.0 872.6,633.5 885.6,636.0 901.0,637.4 922.0,637.9 935.0,640.0 948.0,645.0 961.0,647.8 974.0,651.7 989.7,653.5 1010.5,650.4 1023.5,645.0 1039.0,639.5 1054.7,635.6 1067.7,631.7 1078.0,630.0 1091.0,629.6 1104.0,630.9 1114.0,633.5" fill="none" stroke="#ff0000" stroke-width="1" stroke-dasharray="3 3"/>
<line x1="2" y1="708.5" x2="1417" y2="708.5" stroke="#c0c0c0" stroke-width="1" stroke-dasharray="3 3"/>
<line x1="2" y1="759.5" x2="1417" y2="759.5" stroke="#c0c0c0" stroke-width="1" stroke-dasharray="3 3"/>
<polyline points="2.0,729.0 10.0,743.4 18.0,740.0 26.0,736.4 34.0,743.4 42.0,754.3 50.0,756.4 58.0,751.2 66.0,752.5 74.0,743.4 82.0,737.2 90.0,739.5 98.0,744.2 106.0,740.3 114.0,741.6 122.0,737.4 130.0,740.3 138.0,738.2 146.0,733.8 154.0,730.4 162.0,729.0 170.0,730.4 178.0,737.7 186.0,736.4 194.0,743.9 202.0,747.3 210.0,745.5 218.0,745.5 226.0,745.5 234.0,747.3 242.0,737.7 250.0,730.4 258.0,731.7 266.0,735.6 274.0,742.9 282.0,749.4 290.0,751.2 298.0,737.4 306.0,737.4 314.0,720.5 322.0,719.2 330.0,726.5 338.0,717.4 346.0,708.8 354.0,714.3 362.0,714.3 370.0,713.5 378.0,722.0 386.0,725.2 394.0,739.0 402.0,738.2 410.0,736.4 418.0,741.3 426.0,733.0 434.0,723.4 442.0,714.3 450.0,712.2 458.0,711.4 466.0,718.2 474.0,717.4 482.0,717.4 490.0,716.4 498.0,721.3 506.0,736.4 514.0,735.0 522.0,735.0 530.0,736.4 538.0,747.3 546.0,746.0 554.0,748.0 562.0,749.4 570.0,737.4 578.0,738.2 586.0,734.6 594.0,734.3 602.0,736.0 610.0,746.0 618.0,742.0 626.0,734.6 634.0,742.0 642.0,742.6 650.0,745.5 658.0,753.3 666.0,754.3 674.0,753.3 682.0,756.4 690.0,755.0 698.0,751.2 706.0,747.3 714.0,760.3 722.0,757.2 730.0,749.4 738.0,749.4 746.0,723.9 754.0,730.4 762.0,730.4 770.0,734.3 778.0,730.4 786.0,730.4 794.0,728.3 802.0,736.4 810.0,742.9 818.0,747.3 826.0,749.4 834.0,749.4 842.0,751.7 850.0,747.3 858.0,748.0 866.0,749.4 874.0,734.3 882.0,735.6 890.0,743.4 898.0,745.2 906.0,745.5 914.0,750.7 922.0,761.0 930.0,757.2 938.0,760.6 946.0,758.2 954.0,743.4 962.0,743.4 970.0,744.7 978.0,746.5 986.0,739.3 994.0,739.3 1002.0,745.5 1010.0,736.9 1018.0,733.0 1026.0,730.2 1034.0,745.5 1042.0,732.2 1050.0,739.5 1058.0,736.4 1066.0,741.6 1074.0,740.3 1082.0,744.2 1090.0,740.3 1098.0,748.0 1106.0,752.0 1114.0,753.3" fill="none" stroke="#1e90ff" stroke-width="1" />
<rect x="1418" y="30" width="2" height="1" fill="#000"/>
<rect x="1418" y="63" width="2" height="1" fill="#000"/>
<rect x="1418" y="96" width="2" height="1" fill="#000"/>
<rect x="1418" y="129" width="2" height="1" fill="#000"/>
<rect x="1418" y="162" width="2" height="1" fill="#000"/>
<rect x="1418" y="195" width="2" height="1" fill="#000"/>
<rect x="1418" y="228" width="2" height="1" fill="#000"/>
<rect x="1418" y="261" width="2" height="1" fill="#000"/>
<rect x="1418" y="294" width="2" height="1" fill="#000"/>
<rect x="1418" y="327" width="2" height="1" fill="#000"/>
<rect x="1418" y="360" width="2" height="1" fill="#000"/>
<rect x="1418" y="393" width="2" height="1" fill="#000"/>
<rect x="1418" y="426" width="2" height="1" fill="#000"/>
<rect x="1418" y="459" width="2" height="1" fill="#000"/>
<rect x="1418" y="492" width="2" height="1" fill="#000"/>
<rect x="1418" y="525" width="2" height="1" fill="#000"/>
<rect x="1418" y="558" width="2" height="1" fill="#000"/>
<rect x="1418" y="565" width="1" height="1" fill="#000"/>
<rect x="1418" y="612" width="1" height="1" fill="#000"/>
<rect x="1418" y="665" width="1" height="1" fill="#000"/>
<rect x="1418" y="670" width="1" height="1" fill="#000"/>
<rect x="1418" y="797" width="1" height="1" fill="#000"/>
<rect x="2" y="799" width="1" height="3" fill="#000"/>
<rect x="66" y="799" width="1" height="3" fill="#000"/>
<rect x="130" y="799" width="1" height="3" fill="#000"/>
<rect x="194" y="799" width="1" height="3" fill="#000"/>
<rect x="258" y="799" width="1" height="3" fill="#000"/>
<rect x="322" y="799" width="1" height="3" fill="#000"/>
<rect x="386" y="799" width="1" height="3" fill="#000"/>
<rect x="450" y="799" width="1" height="3" fill="#000"/>
<rect x="514" y="799" width="1" height="3" fill="#000"/>
<rect x="578" y="799" width="1" height="3" fill="#000"/>
<rect x="642" y="799" width="1" height="3" fill="#000"/>
<rect x="706" y="799" width="1" height="3" fill="#000"/>
<rect x="770" y="799" width="1" height="3" fill="#000"/>
<rect x="834" y="799" width="1" height="3" fill="#000"/>
<rect x="898" y="799" width="1" height="3" fill="#000"/>
<rect x="962" y="799" width="1" height="3" fill="#000"/>
<rect x="1026" y="799" width="1" height="3" fill="#000"/>
<rect x="1090" y="799" width="1" height="3" fill="#000"/>
</g>
<text x="1423.5" y="34" font-size="10" fill="#000" stroke="#000" stroke-width="0.2" textLength="32.5" lengthAdjust="spacingAndGlyphs" >1.14300</text>
<text x="1423.5" y="67" font-size="10" fill="#000" stroke="#000" stroke-width="0.2" textLength="32.5" lengthAdjust="spacingAndGlyphs" >1.13970</text>
<text x="1423.5" y="100" font-size="10" fill="#000" stroke="#000" stroke-width="0.2" textLength="32.5" lengthAdjust="spacingAndGlyphs" >1.13630</text>
<text x="1423.5" y="133" font-size="10" fill="#000" stroke="#000" stroke-width="0.2" textLength="32.5" lengthAdjust="spacingAndGlyphs" >1.13300</text>
<text x="1423.5" y="166" font-size="10" fill="#000" stroke="#000" stroke-width="0.2" textLength="32.5" lengthAdjust="spacingAndGlyphs" >1.12960</text>
<text x="1423.5" y="199" font-size="10" fill="#000" stroke="#000" stroke-width="0.2" textLength="32.5" lengthAdjust="spacingAndGlyphs" >1.12630</text>
<text x="1423.5" y="232" font-size="10" fill="#000" stroke="#000" stroke-width="0.2" textLength="32.5" lengthAdjust="spacingAndGlyphs" >1.12290</text>
<text x="1423.5" y="265" font-size="10" fill="#000" stroke="#000" stroke-width="0.2" textLength="32.5" lengthAdjust="spacingAndGlyphs" >1.11960</text>
<text x="1423.5" y="298" font-size="10" fill="#000" stroke="#000" stroke-width="0.2" textLength="32.5" lengthAdjust="spacingAndGlyphs" >1.11620</text>
<text x="1423.5" y="331" font-size="10" fill="#000" stroke="#000" stroke-width="0.2" textLength="32.5" lengthAdjust="spacingAndGlyphs" >1.11280</text>
<text x="1423.5" y="364" font-size="10" fill="#000" stroke="#000" stroke-width="0.2" textLength="32.5" lengthAdjust="spacingAndGlyphs" >1.10950</text>
<text x="1423.5" y="397" font-size="10" fill="#000" stroke="#000" stroke-width="0.2" textLength="32.5" lengthAdjust="spacingAndGlyphs" >1.10610</text>
<text x="1423.5" y="430" font-size="10" fill="#000" stroke="#000" stroke-width="0.2" textLength="32.5" lengthAdjust="spacingAndGlyphs" >1.10280</text>
<text x="1423.5" y="463" font-size="10" fill="#000" stroke="#000" stroke-width="0.2" textLength="32.5" lengthAdjust="spacingAndGlyphs" >1.09940</text>
<text x="1423.5" y="496" font-size="10" fill="#000" stroke="#000" stroke-width="0.2" textLength="32.5" lengthAdjust="spacingAndGlyphs" >1.09610</text>
<text x="1423.5" y="529" font-size="10" fill="#000" stroke="#000" stroke-width="0.2" textLength="32.5" lengthAdjust="spacingAndGlyphs" >1.09270</text>
<text x="1423.5" y="562" font-size="10" fill="#000" stroke="#000" stroke-width="0.2" textLength="32.5" lengthAdjust="spacingAndGlyphs" >1.08940</text>
<g shape-rendering="crispEdges">
<rect x="1419" y="53" width="41" height="11" fill="#ff0000"/>
<rect x="1419" y="167" width="41" height="11" fill="#ff0000"/>
<rect x="1419" y="260" width="41" height="11" fill="#ff0000"/>
<rect x="1419" y="349" width="41" height="11" fill="#ff0000"/>
<rect x="1411" y="352" width="7" height="7" fill="#ff0000"/>
<rect x="1414" y="355" width="1" height="1" fill="#fff"/>
<rect x="1" y="352" width="7" height="7" fill="#ff0000"/>
<rect x="4" y="355" width="1" height="1" fill="#fff"/>
<rect x="1419" y="428" width="41" height="11" fill="#00ff00"/>
<rect x="1411" y="431" width="7" height="7" fill="#00ff00"/>
<rect x="1414" y="434" width="1" height="1" fill="#fff"/>
<rect x="1" y="431" width="7" height="7" fill="#00ff00"/>
<rect x="4" y="434" width="1" height="1" fill="#fff"/>
<rect x="1419" y="533" width="41" height="11" fill="#000"/>
</g>
<text x="1423.5" y="62" font-size="10" fill="#fff" stroke="#fff" stroke-width="0.2" textLength="32.5" lengthAdjust="spacingAndGlyphs" >1.14009</text>
<text x="1423.5" y="176" font-size="10" fill="#fff" stroke="#fff" stroke-width="0.2" textLength="32.5" lengthAdjust="spacingAndGlyphs" >1.12851</text>
<text x="1423.5" y="269" font-size="10" fill="#fff" stroke="#fff" stroke-width="0.2" textLength="32.5" lengthAdjust="spacingAndGlyphs" >1.11901</text>
<text x="1423.5" y="358" font-size="10" fill="#fff" stroke="#fff" stroke-width="0.2" textLength="32.5" lengthAdjust="spacingAndGlyphs" >1.11000</text>
<text x="1423.5" y="437" font-size="10" fill="#fff" stroke="#fff" stroke-width="0.2" textLength="32.5" lengthAdjust="spacingAndGlyphs" >1.10201</text>
<text x="1423.5" y="542" font-size="10" fill="#fff" stroke="#fff" stroke-width="0.2" textLength="32.5" lengthAdjust="spacingAndGlyphs" >1.09142</text>
<text x="1421" y="574" font-size="10" fill="#000" stroke="#000" stroke-width="0.2" textLength="38" lengthAdjust="spacingAndGlyphs" >0.004536</text>
<text x="1421" y="616" font-size="10" fill="#000" stroke="#000" stroke-width="0.2" textLength="18" lengthAdjust="spacingAndGlyphs" >0.00</text>
<text x="1421" y="663" font-size="10" fill="#000" stroke="#000" stroke-width="0.2" textLength="41" lengthAdjust="spacingAndGlyphs" >-0.005205</text>
<text x="1421" y="679" font-size="10" fill="#000" stroke="#000" stroke-width="0.2" textLength="14.5" lengthAdjust="spacingAndGlyphs" >100</text>
<text x="1421" y="712" font-size="10" fill="#000" stroke="#000" stroke-width="0.2" textLength="9.5" lengthAdjust="spacingAndGlyphs" >70</text>
<text x="1421" y="763" font-size="10" fill="#000" stroke="#000" stroke-width="0.2" textLength="9.5" lengthAdjust="spacingAndGlyphs" >30</text>
<text x="1421" y="795" font-size="10" fill="#000" stroke="#000" stroke-width="0.2" textLength="4.8" lengthAdjust="spacingAndGlyphs" >0</text>
<path d="M4.8 33.8 L12.4 33.8 L8.6 29.5 Z" fill="#000"/>
<text x="17" y="34" font-size="10" fill="#000" stroke="#000" stroke-width="0.2" textLength="67" lengthAdjust="spacingAndGlyphs" >EURUSD-,Daily</text>
<text x="90" y="34" font-size="10" fill="#000" stroke="#000" stroke-width="0.2" textLength="141" lengthAdjust="spacingAndGlyphs" >1.09222 1.09222 1.09038 1.09142</text>
<text x="6" y="576" font-size="10" fill="#000" stroke="#000" stroke-width="0.2" textLength="154" lengthAdjust="spacingAndGlyphs" >MACD(12,26,9) -0.003368 -0.002065</text>
<text x="6" y="681" font-size="10" fill="#000" stroke="#000" stroke-width="0.2" textLength="68" lengthAdjust="spacingAndGlyphs" >RSI(14) 34.9911</text>
<path d="M1127.5 23 L1137.5 23 L1132.5 28.3 Z" fill="#c0c0c0"/>
<text x="1.5" y="811" font-size="10" fill="#000" stroke="#000" stroke-width="0.2" textLength="50.6" lengthAdjust="spacingAndGlyphs" >17 Apr 2019</text>
<text x="65.5" y="811" font-size="10" fill="#000" stroke="#000" stroke-width="0.2" textLength="51" lengthAdjust="spacingAndGlyphs" >28 Apr 2019</text>
<text x="129.5" y="811" font-size="10" fill="#000" stroke="#000" stroke-width="0.2" textLength="50.5" lengthAdjust="spacingAndGlyphs" >7 May 2019</text>
<text x="193.5" y="811" font-size="10" fill="#000" stroke="#000" stroke-width="0.2" textLength="54" lengthAdjust="spacingAndGlyphs" >16 May 2019</text>
<text x="257.5" y="811" font-size="10" fill="#000" stroke="#000" stroke-width="0.2" textLength="54.3" lengthAdjust="spacingAndGlyphs" >26 May 2019</text>
<text x="321.5" y="811" font-size="10" fill="#000" stroke="#000" stroke-width="0.2" textLength="44.8" lengthAdjust="spacingAndGlyphs" >4 Jun 2019</text>
<text x="385.5" y="811" font-size="10" fill="#000" stroke="#000" stroke-width="0.2" textLength="49.3" lengthAdjust="spacingAndGlyphs" >13 Jun 2019</text>
<text x="449.5" y="811" font-size="10" fill="#000" stroke="#000" stroke-width="0.2" textLength="50" lengthAdjust="spacingAndGlyphs" >23 Jun 2019</text>
<text x="513.5" y="811" font-size="10" fill="#000" stroke="#000" stroke-width="0.2" textLength="42" lengthAdjust="spacingAndGlyphs" >2 Jul 2019</text>
<text x="577.5" y="811" font-size="10" fill="#000" stroke="#000" stroke-width="0.2" textLength="46" lengthAdjust="spacingAndGlyphs" >11 Jul 2019</text>
<text x="641.5" y="811" font-size="10" fill="#000" stroke="#000" stroke-width="0.2" textLength="46.5" lengthAdjust="spacingAndGlyphs" >21 Jul 2019</text>
<text x="705.5" y="811" font-size="10" fill="#000" stroke="#000" stroke-width="0.2" textLength="46.5" lengthAdjust="spacingAndGlyphs" >30 Jul 2019</text>
<text x="769.5" y="811" font-size="10" fill="#000" stroke="#000" stroke-width="0.2" textLength="48" lengthAdjust="spacingAndGlyphs" >8 Aug 2019</text>
<text x="833.5" y="811" font-size="10" fill="#000" stroke="#000" stroke-width="0.2" textLength="52.6" lengthAdjust="spacingAndGlyphs" >18 Aug 2019</text>
<text x="897.5" y="811" font-size="10" fill="#000" stroke="#000" stroke-width="0.2" textLength="52.8" lengthAdjust="spacingAndGlyphs" >27 Aug 2019</text>
<text x="961.5" y="811" font-size="10" fill="#000" stroke="#000" stroke-width="0.2" textLength="46.6" lengthAdjust="spacingAndGlyphs" >5 Sep 2019</text>
<text x="1025.5" y="811" font-size="10" fill="#000" stroke="#000" stroke-width="0.2" textLength="51.5" lengthAdjust="spacingAndGlyphs" >15 Sep 2019</text>
<text x="1089.5" y="811" font-size="10" fill="#000" stroke="#000" stroke-width="0.2" textLength="51.2" lengthAdjust="spacingAndGlyphs" >24 Sep 2019</text>
<g shape-rendering="crispEdges">
<rect x="3" y="41" width="223" height="26" fill="#fff"/>
<rect x="5" y="42" width="52" height="25" fill="#2c2cc8"/>
<rect x="6" y="43" width="50" height="24" fill="url(#gs)"/>
<rect x="172" y="42" width="52" height="25" fill="#2c2cc8"/>
<rect x="173" y="43" width="50" height="24" fill="url(#gs)"/>
<rect x="5" y="66" width="109" height="40" fill="url(#gb)"/>
<rect x="116" y="66" width="108" height="40" fill="url(#gb)"/>
<rect x="113" y="66" width="1" height="40" fill="#0000a0" fill-opacity="0.5"/>
<rect x="223" y="66" width="1" height="40" fill="#0000a0" fill-opacity="0.5"/>
<rect x="9" y="65" width="44" height="1" fill="#1c1cb4"/>
<rect x="9" y="66" width="44" height="1" fill="#8484f2"/>
<rect x="176" y="65" width="44" height="1" fill="#1c1cb4"/>
<rect x="176" y="66" width="44" height="1" fill="#8484f2"/>
<rect x="59" y="42" width="111" height="22" fill="#a6a6a6"/>
<rect x="60" y="43" width="109" height="20" fill="#fff"/>
<rect x="60" y="43" width="21" height="20" fill="#b8b8b8"/>
<rect x="61" y="44" width="19" height="18" fill="url(#gbtn)"/>
<rect x="148" y="43" width="21" height="20" fill="#b8b8b8"/>
<rect x="149" y="44" width="19" height="18" fill="url(#gbtn)"/>
</g>
<path d="M66.7 50.8 L72.3 50.8 L69.5 54.3 Z" fill="#4a5cb4"/>
<path d="M155.9 54 L161.1 54 L158.5 50.8 Z" fill="#4a5cb4"/>
<text x="144.5" y="57" font-size="12" fill="#000" textLength="23" lengthAdjust="spacingAndGlyphs" text-anchor="end" >1.00</text>
<text x="30.5" y="58" font-size="12" fill="#fff" textLength="25.5" lengthAdjust="spacingAndGlyphs" text-anchor="middle" >SELL</text>
<text x="197.3" y="58" font-size="12" fill="#fff" textLength="23.3" lengthAdjust="spacingAndGlyphs" text-anchor="middle" >BUY</text>
<text x="25.5" y="97" font-size="12" fill="#fff" textLength="23.3" lengthAdjust="spacingAndGlyphs" font-weight="bold" >1.09</text>
<text x="53" y="97.4" font-size="34" fill="#fff" textLength="34.5" lengthAdjust="spacingAndGlyphs" >14</text>
<text x="92.2" y="81" font-size="11" fill="#fff" textLength="6.6" lengthAdjust="spacingAndGlyphs" font-weight="bold" >2</text>
<text x="135.5" y="97" font-size="12" fill="#fff" textLength="23.3" lengthAdjust="spacingAndGlyphs" font-weight="bold" >1.09</text>
<text x="163.7" y="97.4" font-size="34" fill="#fff" textLength="35.3" lengthAdjust="spacingAndGlyphs" >16</text>
<text x="203" y="81" font-size="11" fill="#fff" textLength="6.6" lengthAdjust="spacingAndGlyphs" font-weight="bold" >0</text>
<g shape-rendering="crispEdges">
<rect x="0" y="819" width="1461" height="1" fill="#e3e3e3"/>
<rect x="0" y="822" width="1461" height="1" fill="#fafafa"/>
<rect x="0" y="823" width="1461" height="18" fill="#f0f0f0"/>
<rect x="0" y="841" width="1461" height="1" fill="#fbfbfb"/>
<rect x="0" y="821" width="1461" height="1" fill="#000"/>
<rect x="3" y="821" width="108" height="19" fill="#fff"/>
<rect x="3" y="821" width="1" height="19" fill="#000"/>
<rect x="110" y="821" width="1" height="19" fill="#000"/>
<rect x="3" y="839" width="108" height="1" fill="#000"/>
<rect x="219" y="824" width="1" height="14" fill="#5a5a5a"/>
<rect x="327" y="824" width="1" height="14" fill="#5a5a5a"/>
<rect x="435" y="824" width="1" height="14" fill="#5a5a5a"/>
<rect x="547" y="824" width="1" height="14" fill="#5a5a5a"/>
<rect x="667" y="824" width="1" height="14" fill="#5a5a5a"/>
<rect x="775" y="824" width="1" height="14" fill="#5a5a5a"/>
<rect x="871" y="824" width="1" height="14" fill="#5a5a5a"/>
<rect x="950" y="824" width="1" height="14" fill="#5a5a5a"/>
<rect x="1055" y="824" width="1" height="14" fill="#5a5a5a"/>
<rect x="1175" y="824" width="1" height="14" fill="#5a5a5a"/>
</g>
<text x="14" y="836" font-size="12" fill="#000" textLength="85" lengthAdjust="spacingAndGlyphs" >EURUSD-,Daily</text>
<text x="121" y="836" font-size="12" fill="#6e6e6e" textLength="87" lengthAdjust="spacingAndGlyphs" >AUDUSD-,Daily</text>
<text x="231" y="836" font-size="12" fill="#6e6e6e" textLength="84" lengthAdjust="spacingAndGlyphs" >USDCHF-,Daily</text>
<text x="338.5" y="836" font-size="12" fill="#6e6e6e" textLength="85" lengthAdjust="spacingAndGlyphs" >USDCAD-,Daily</text>
<text x="447.5" y="836" font-size="12" fill="#6e6e6e" textLength="87" lengthAdjust="spacingAndGlyphs" >USDCNH-,Daily</text>
<text x="558" y="836" font-size="12" fill="#6e6e6e" textLength="97" lengthAdjust="spacingAndGlyphs" >EURCHF-,Weekly</text>
<text x="678" y="836" font-size="12" fill="#6e6e6e" textLength="86" lengthAdjust="spacingAndGlyphs" >XAUUSD-,Daily</text>
<text x="786.5" y="836" font-size="12" fill="#6e6e6e" textLength="72.5" lengthAdjust="spacingAndGlyphs" >GBPUSD-,H1</text>
<text x="882" y="836" font-size="12" fill="#6e6e6e" textLength="57" lengthAdjust="spacingAndGlyphs" >UKOil-,H1</text>
<text x="961" y="836" font-size="12" fill="#6e6e6e" textLength="83" lengthAdjust="spacingAndGlyphs" >USDX-,Weekly</text>
<text x="1066.5" y="836" font-size="12" fill="#6e6e6e" textLength="97" lengthAdjust="spacingAndGlyphs" >EURCHF-,Weekly</text>
<path d="M1436.2 826.8 L1436.2 833.2 L1432.8 830 Z" fill="#8e8e8e"/>
<path d="M1451.8 826.8 L1451.8 833.2 L1455.2 830 Z" fill="#8e8e8e"/>
</svg>
</body></html>
